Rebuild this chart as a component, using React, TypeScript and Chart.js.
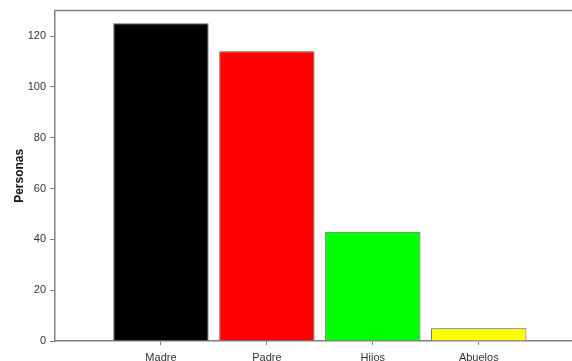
import React, { useEffect, useRef } from "react";
import { Chart, registerables } from "chart.js";

Chart.register(...registerables);

const categories = ["Madre", "Padre", "Hijos", "Abuelos"];
const values = [125, 114, 43, 5];
const barColors = ["#000000", "#ff0000", "#00ff00", "#ffff00"];
const yTicks = [0, 20, 40, 60, 80, 100, 120];

const topBorder = {
  id: "topBorder",
  afterDraw(chart: any) {
    const { ctx, chartArea } = chart;
    ctx.save();
    ctx.strokeStyle = "#808080";
    ctx.lineWidth = 1.5;
    ctx.beginPath();
    ctx.moveTo(chartArea.left, chartArea.top);
    ctx.lineTo(chartArea.right, chartArea.top);
    ctx.stroke();
    ctx.restore();
  },
};

export default function App() {
  const ref = useRef<HTMLCanvasElement>(null);
  useEffect(() => {
    document.body.style.margin = "0";
    const chart = new Chart(ref.current!, {
      type: "bar",
      data: {
        datasets: [
          {
            data: values.map((v, i) => ({ x: i, y: v })),
            backgroundColor: barColors,
            borderColor: "#5a5a5a",
            borderWidth: 1,
            categoryPercentage: 1,
            barPercentage: 0.9,
          },
        ],
      },
      options: {
        animation: false,
        responsive: false,
        layout: { padding: { top: 10, right: 0, left: 0, bottom: 0 } },
        plugins: { legend: { display: false }, tooltip: { enabled: false } },
        scales: {
          x: {
            type: "linear",
            offset: false,
            min: -1,
            max: 3.88,
            afterBuildTicks: (scale: any) => {
              scale.ticks = categories.map((_, i) => ({ value: i }));
            },
            afterFit: (scale: any) => {
              scale.height = 20;
            },
            ticks: {
              callback: (v: any) => categories[v] ?? "",
              color: "#333333",
              font: { family: "Liberation Sans, Arial", size: 11 },
              padding: 6,
              maxRotation: 0,
            },
            grid: { display: true, offset: false, drawOnChartArea: false, tickLength: 4, color: "#808080" },
            border: { color: "#808080", width: 1.5 },
          },
          y: {
            min: 0,
            max: 130,
            afterBuildTicks: (scale: any) => {
              scale.ticks = yTicks.map((v) => ({ value: v }));
            },
            afterFit: (scale: any) => {
              scale.width = 55;
            },
            ticks: {
              color: "#333333",
              font: { family: "Liberation Sans, Arial", size: 11 },
              padding: 4,
            },
            grid: { display: true, drawOnChartArea: false, tickLength: 5, color: "#808080" },
            border: { color: "#808080", width: 1.5 },
            title: {
              display: true,
              text: "Personas",
              color: "#111111",
              font: { family: "Liberation Sans, Arial", size: 12, weight: "bold" },
              padding: { top: 12, bottom: 2 },
            },
          },
        },
      },
      plugins: [topBorder],
    });
    return () => chart.destroy();
  }, []);
  return (
    <div style={{ position: "absolute", left: 0, top: 0, width: 572, height: 361 }}>
      <canvas ref={ref} width={572} height={361} />
    </div>
  );
}
